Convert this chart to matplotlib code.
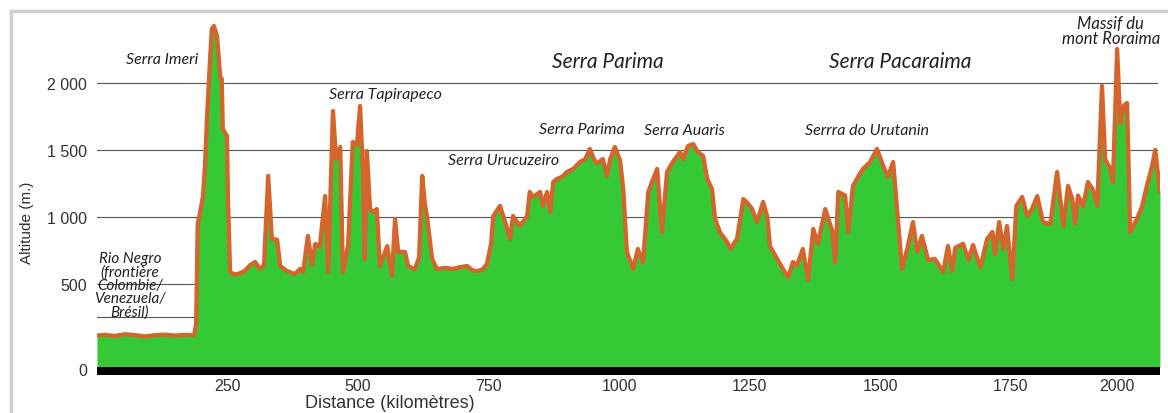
import matplotlib.pyplot as plt
from matplotlib.patches import Rectangle

# Altitude profile (distance in km, altitude in m)
distance = [0, 15, 34, 54, 73, 92, 111, 130, 149, 169, 186, 190, 192, 193, 197,
            203, 207, 211, 216, 220, 224, 230, 236, 239, 241, 249, 251, 255, 264,
            274, 284, 293, 303, 312, 320, 328, 335, 345, 351, 364, 379, 389, 395,
            404, 412, 418, 427, 437, 443, 452, 458, 466, 471, 481, 490, 498, 504,
            510, 513, 517, 523, 529, 536, 542, 556, 565, 571, 577, 590, 596, 609,
            617, 623, 628, 632, 642, 651, 667, 682, 695, 709, 720, 730, 739, 747,
            755, 759, 772, 782, 791, 797, 810, 824, 829, 835, 849, 854, 862, 868,
            874, 881, 891, 900, 912, 925, 935, 944, 952, 958, 969, 977, 983, 992,
            1002, 1008, 1015, 1027, 1036, 1046, 1056, 1063, 1073, 1082, 1092, 1103,
            1117, 1123, 1132, 1142, 1151, 1161, 1169, 1178, 1184, 1193, 1207, 1213,
            1226, 1238, 1247, 1255, 1264, 1276, 1284, 1289, 1303, 1314, 1324, 1333,
            1341, 1352, 1362, 1372, 1381, 1395, 1408, 1414, 1420, 1433, 1439, 1448,
            1458, 1467, 1481, 1494, 1506, 1515, 1525, 1534, 1542, 1552, 1563, 1571,
            1580, 1592, 1605, 1621, 1630, 1638, 1644, 1659, 1669, 1678, 1692, 1705,
            1715, 1720, 1728, 1736, 1743, 1753, 1761, 1772, 1782, 1791, 1801, 1812,
            1826, 1839, 1851, 1860, 1868, 1874, 1879, 1889, 1898, 1908, 1916, 1925,
            1931, 1941, 1946, 1954, 1960, 1966, 1973, 1979, 1992, 2002, 2011, 2021,
            2027, 2036]
altitude = [115, 120, 112, 125, 118, 108, 118, 122, 115, 120, 118, 200, 686, 947,
            1022, 1150, 1380, 1753, 2126, 2402, 2425, 2350, 2052, 2029, 1656, 1604,
            1134, 589, 570, 580, 600, 640, 664, 612, 640, 1306, 836, 830, 634, 597,
            574, 612, 590, 858, 640, 798, 780, 1156, 589, 1790, 1432, 1522, 589,
            783, 1559, 1540, 1828, 1283, 686, 1492, 1059, 1037, 1059, 634, 783,
            560, 985, 739, 739, 634, 610, 700, 1306, 1100, 1007, 686, 612, 620,
            612, 625, 634, 600, 597, 610, 650, 800, 1007, 1082, 960, 836, 1007,
            933, 1007, 1186, 1150, 1186, 1082, 1186, 1037, 1261, 1283, 1300, 1335,
            1358, 1410, 1430, 1507, 1430, 1400, 1432, 1306, 1432, 1522, 1420, 1209,
            739, 612, 761, 660, 1186, 1260, 1358, 888, 1335, 1410, 1485, 1432, 1529,
            1544, 1485, 1455, 1283, 1209, 985, 888, 813, 761, 836, 1134, 1100, 1059,
            962, 1112, 1000, 783, 686, 612, 550, 664, 640, 761, 530, 910, 800, 1059,
            900, 660, 1186, 1160, 888, 1231, 1300, 1358, 1410, 1507, 1380, 1300,
            1410, 985, 612, 761, 962, 739, 858, 680, 686, 589, 783, 600, 770, 800,
            680, 790, 625, 836, 888, 720, 962, 760, 933, 537, 1082, 1149, 1007, 1060,
            1156, 962, 947, 1335, 933, 1231, 1134, 950, 1160, 1080, 1261, 1200, 1082,
            1977, 1432, 1358, 1261, 2253, 1700, 1828, 1850, 888, 985, 1082, 1231,
            1380, 1500, 1186]

ytick_pos = [-134, 500, 1000, 1500, 2000]
ytick_labels = ["0", "500", "1 000", "1 500", "2 000"]
xtick_pos = [250, 500, 750, 1000, 1250, 1500, 1750, 1954]
xtick_labels = ["250", "500", "750", "1000", "1250", "1500", "1750", "2000"]
grid_levels = [250, 500, 1000, 1500, 2000]

# (text, distance, altitude, size)
labels = [
    ("Serra Imeri", 124, 2178, 11.5),
    ("Serra Tapirapeco", 552, 1917, 11.5),
    ("Serra Urucuzeiro", 778, 1425, 11.5),
    ("Serra Parima", 929, 1656, 11.5),
    ("Serra Auaris", 1125, 1649, 11.5),
    ("Serrra do Urutanin", 1475, 1649, 11.5),
    ("Serra Parima", 979, 2163, 15),
    ("Serra Pacaraima", 1538, 2163, 15),
    ("Massif du\nmont Roraima", 1942, 2390, 12),
    ("Rio Negro\n(frontière\nColombie/\nVenezuela/\nBrésil)", 63, 495, 11),
]

green = "#36c936"
orange = "#d3652d"
ybottom, ytop = -179, 2462

fig = plt.figure(figsize=(11.68, 4.14), dpi=100)
ax = fig.add_axes([0.0830, 0.0918, 0.9101, 0.8551])

for lv in grid_levels:
    ax.axhline(lv, xmin=0, xmax=0.997, color="#555555", lw=0.8, zorder=1)

ax.fill_between(distance, -119, altitude, color=green, lw=0, zorder=2)
ax.plot(distance, altitude, color=orange, lw=3.1, zorder=3,
        solid_joinstyle="round")
ax.axhspan(ybottom, -119, color="black", lw=0, zorder=4)

for txt, x, y, s in labels:
    ax.text(x, y, txt, ha="center", va="center", fontsize=s,
            family="Lato", style="italic", color="#222222",
            linespacing=0.93, zorder=5)

ax.set_xlim(0, 2036)
ax.set_ylim(ybottom, ytop)
ax.set_yticks(ytick_pos, ytick_labels)
ax.set_xticks(xtick_pos, xtick_labels)
ax.tick_params(length=0, labelsize=11.5, labelcolor="#333333")
ax.tick_params(axis="y", pad=7)
ax.tick_params(axis="x", pad=2)
for lab in ax.get_xticklabels() + ax.get_yticklabels():
    lab.set_family("Liberation Sans")
for sp in ax.spines.values():
    sp.set_visible(False)

fig.text(27 / 1168, 1 - 223 / 414, "Altitude (m.)", rotation=90,
         ha="center", va="center", fontsize=11, family="Liberation Sans",
         color="#333333")
fig.text(390 / 1168, 1 - 404 / 414, "Distance (kilomètres)",
         ha="center", va="center", fontsize=13, family="Liberation Sans",
         color="#333333")

fig.add_artist(Rectangle((11 / 1168, -0.5), 2, 0.5 + 1 - 12 / 414,
                         transform=fig.transFigure, fill=False,
                         edgecolor="#d0d0d0", lw=2.5))

fig.savefig("out.png", dpi=100)
